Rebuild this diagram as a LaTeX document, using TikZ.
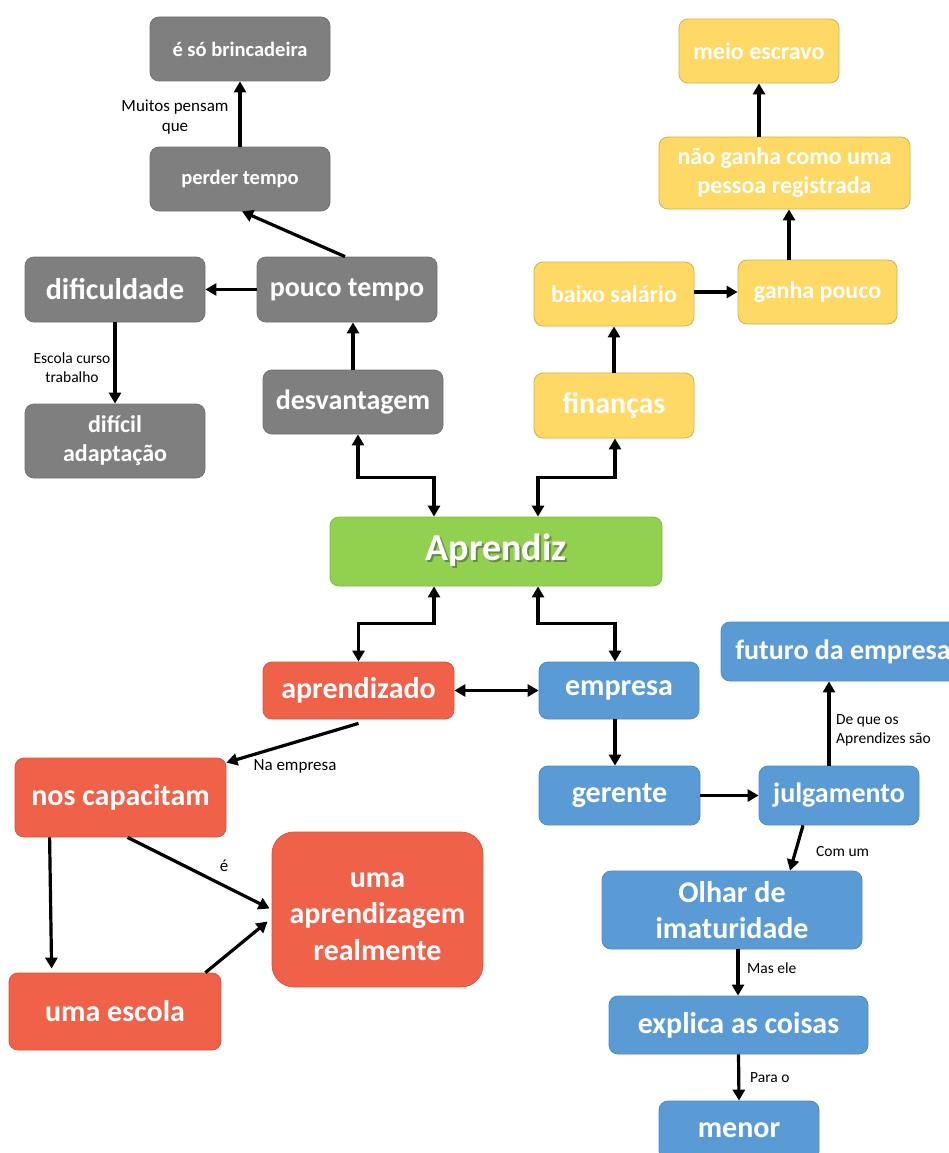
\documentclass[tikz,border=0pt]{standalone}
\usepackage{fontspec}
\setmainfont{Carlito}
\usetikzlibrary{arrows.meta}
\definecolor{cgray}{HTML}{7F7F7F}
\definecolor{cgrayd}{HTML}{737373}
\definecolor{cyel}{HTML}{FFD966}
\definecolor{cyeld}{HTML}{D4B04E}
\definecolor{cgreen}{HTML}{92D050}
\definecolor{cgreend}{HTML}{7DBA45}
\definecolor{cred}{HTML}{EF6149}
\definecolor{credd}{HTML}{D9553F}
\definecolor{cblue}{HTML}{5B9BD5}
\definecolor{cblued}{HTML}{4E8AC2}
\definecolor{cshadow}{HTML}{6A8A4A}
\newcommand\fsz[2]{\fontsize{#1pt}{#2pt}\selectfont}
\tikzset{
  base/.style={rectangle, rounded corners=9pt, inner sep=0pt, align=center, text=white, line width=0.8pt},
  gbox/.style={base, fill=cgray, draw=cgrayd},
  ybox/.style={base, fill=cyel, draw=cyeld},
  rbox/.style={base, fill=cred, draw=credd},
  bbox/.style={base, fill=cblue, draw=cblued},
  grbox/.style={base, fill=cgreen, draw=cgreend},
  fA/.style={font=\bfseries\fsz{30}{36.6}},
  fB/.style={font=\bfseries\fsz{28}{34}},
  fC/.style={font=\bfseries\fsz{24}{29}},
  fD/.style={font=\bfseries\fsz{20.5}{25}},
  fE/.style={font=\bfseries\fsz{38}{46}},
  lblA/.style={inner sep=0pt, align=center, text=black, font=\fsz{17}{20.5}},
  lblB/.style={inner sep=0pt, align=left, text=black, font=\fsz{15.5}{19}},
  arr/.style={line width=3.2pt, -{Triangle[length=11pt,width=12pt]}},
  dbl/.style={line width=3.2pt, {Triangle[length=11pt,width=12pt]}-{Triangle[length=11pt,width=12pt]}},
}
\begin{document}
\begin{tikzpicture}[x=1pt,y=-1pt]
\useasboundingbox (0,0) rectangle (949,1153);
\fill[white] (0,0) rectangle (949,1153);
\clip (0,0) rectangle (949,1153);

% gray group
\node[gbox,fD,minimum width=180,minimum height=64] (brinc) at (240,49) {é só brincadeira};
\node[gbox,fD,minimum width=180,minimum height=64] (perder) at (240,179) {perder tempo};
\node[gbox,fB,minimum width=180,minimum height=65] (pouco) at (347,289.5) {pouco tempo};
\node[gbox,fA,minimum width=180,minimum height=65] (dific) at (115,289.5) {dificuldade};
\node[gbox,fC,minimum width=180,minimum height=74] (dificil) at (115,441) {difícil\\adaptação};
\node[gbox,fB,minimum width=180,minimum height=64] (desv) at (353,402) {desvantagem};

% yellow group
\node[ybox,fC,minimum width=160,minimum height=64] (meio) at (759,51) {meio escravo};
\node[ybox,fC,minimum width=251,minimum height=72] (nao) at (784.5,173) {não ganha como uma\\pessoa registrada};
\node[ybox,fC,minimum width=160,minimum height=64] (baixo) at (614,294) {baixo salário};
\node[ybox,fC,minimum width=159,minimum height=64] (ganha) at (817.5,292) {ganha pouco};
\node[ybox,fA,minimum width=160,minimum height=65] (fin) at (614,405.5) {finanças};

% center
\node[grbox,fE,minimum width=332,minimum height=69] (apz) at (496,551.5)
  {{\color{cshadow}\rlap{\kern2pt\raisebox{-2pt}{Aprendiz}}}Aprendiz};

% red group
\node[rbox,fA,minimum width=191,minimum height=57] (aprdo) at (358.5,690.5) {aprendizado};
\node[rbox,fA,minimum width=211,minimum height=79] (nos) at (120.5,797.5) {nos capacitam};
\node[rbox,fA,minimum width=212,minimum height=77] (esc) at (115,1011.5) {uma escola};
\node[rbox,rounded corners=22pt,minimum width=211,minimum height=155,
  label={[fA,text=white,align=center,inner sep=0pt,yshift=-7pt]center:uma\\aprendizagem\\realmente}] (apzg) at (377.5,909.5) {};

% blue group
\node[bbox,fA,minimum width=160,minimum height=57] (emp) at (619,690.5) {empresa};
\node[bbox,fB,minimum width=244,minimum height=59] (fut) at (843,651.5) {futuro da empresa};
\node[bbox,fA,minimum width=161,minimum height=59] (ger) at (619.5,795.5) {gerente};
\node[bbox,fB,minimum width=160,minimum height=59] (julg) at (839,795.5) {julgamento};
\node[bbox,fA,minimum width=260,minimum height=78] (olhar) at (732,910) {Olhar de\\imaturidade};
\node[bbox,fA,minimum width=259,minimum height=58] (expl) at (738.5,1025) {explica as coisas};
\node[bbox,fA,minimum width=160,minimum height=59] (menor) at (739,1130.5) {menor};

% labels
\node[lblA] (l1) at (175,117) {Muitos pensam\\que};
\node[lblB,align=center] (l2) at (72,368) {Escola curso\\trabalho};
\node[lblA] (l3) at (295,766) {Na empresa};
\node[lblA] (l4) at (224,866) {é};
\node[lblB,anchor=west] (l5) at (836,730) {De que os\\Aprendizes são};
\node[lblB,anchor=west] (l6) at (816,852) {Com um};
\node[lblB,anchor=west] (l7) at (747,968) {Mas ele};
\node[lblB,anchor=west] (l8) at (750,1078) {Para o};

% connectors
\draw[arr] (perder.north) -- (brinc.south);
\draw[arr] ([xshift=-2pt]pouco.north) -- ([xshift=2pt]perder.south);
\draw[arr] (pouco.west) -- (dific.east);
\draw[arr] (dific.south) -- (dificil.north);
\draw[arr] (desv.north) -- (desv.north |- pouco.south);
\draw[dbl] ([xshift=5pt]desv.south) -- ++(0,43) -| ([xshift=-62pt]apz.north);
\draw[dbl] ([xshift=1pt]fin.south) -- ++(0,39) -| ([xshift=42pt]apz.north);
\draw[arr] (fin.north) -- (baixo.south);
\draw[arr] ([yshift=2pt]baixo.east) -- (ganha.west);
\draw[arr] ([xshift=-28.5pt]ganha.north) -- ([xshift=-28.5pt]ganha.north |- nao.south);
\draw[arr] (nao.north -| meio.south) -- (meio.south);
\draw[dbl] ([xshift=-62pt]apz.south) -- ++(0,37) -| (aprdo.north);
\draw[dbl] ([xshift=42pt]apz.south) -- ++(0,37) -| ([xshift=-4pt]emp.north);
\draw[dbl] (aprdo.east) -- (emp.west);
\draw[arr] ([yshift=-4pt]aprdo.south) -- ([yshift=-5pt]nos.north east);
\draw[arr] ([xshift=35pt]nos.south west) -- ([xshift=43pt,yshift=4pt]esc.north west);
\draw[arr] ([xshift=113pt]nos.south west) -- ([xshift=-2pt,yshift=1pt]apzg.west);
\draw[arr] ([xshift=-16pt]esc.north east) -- ([xshift=-4pt,yshift=-12pt]apzg.west);
\draw[arr] ([xshift=-4pt]emp.south) -- ([xshift=-4pt]emp.south |- ger.north);
\draw[arr] (ger.east) -- (julg.west);
\draw[arr] ([xshift=-10pt]julg.north) -- ([xshift=-10pt]julg.north |- fut.south);
\draw[arr] ([xshift=-36pt]julg.south) -- ([xshift=58pt]olhar.north);
\draw[arr] ([xshift=6pt]olhar.south) -- ([xshift=6pt]olhar.south |- expl.north);
\draw[arr] (expl.south) -- (menor.north);
\end{tikzpicture}
\end{document}
